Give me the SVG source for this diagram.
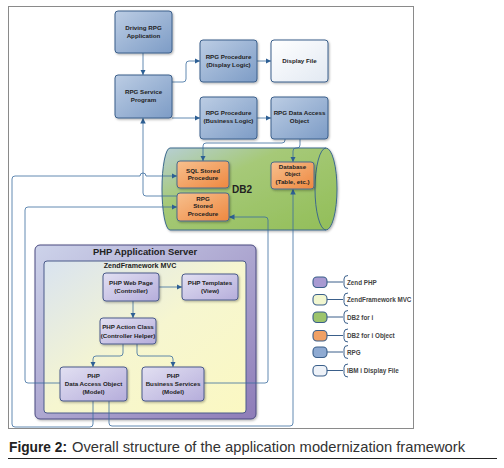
<svg xmlns="http://www.w3.org/2000/svg" width="504" height="468" viewBox="0 0 504 468">
<defs>
<linearGradient id="gRpg" x1="0" y1="0" x2="1" y2="1"><stop offset="0" stop-color="#bccde4"/><stop offset="1" stop-color="#7d9cc6"/></linearGradient>
<linearGradient id="gDisp" x1="0" y1="0" x2="1" y2="1"><stop offset="0" stop-color="#ffffff"/><stop offset="1" stop-color="#e2e9f2"/></linearGradient>
<linearGradient id="gOrg" x1="0" y1="0" x2="1" y2="1"><stop offset="0" stop-color="#f7c08e"/><stop offset="1" stop-color="#ee8840"/></linearGradient>
<linearGradient id="gDb" x1="0" y1="0" x2="1" y2="1"><stop offset="0" stop-color="#b7cfd6"/><stop offset="0.35" stop-color="#a6c978"/><stop offset="1" stop-color="#92be58"/></linearGradient>
<linearGradient id="gSrv" x1="0" y1="0" x2="1" y2="1"><stop offset="0" stop-color="#cdd3ea"/><stop offset="1" stop-color="#8e7cb8"/></linearGradient>
<linearGradient id="gMvc" x1="0" y1="0" x2="1" y2="1"><stop offset="0" stop-color="#d9e3f0"/><stop offset="0.5" stop-color="#f6f6d0"/><stop offset="1" stop-color="#fbf8c2"/></linearGradient>
<linearGradient id="gPhp" x1="0" y1="0" x2="1" y2="1"><stop offset="0" stop-color="#e2e0f2"/><stop offset="1" stop-color="#b5addb"/></linearGradient>
<filter id="sh" x="-10%" y="-10%" width="130%" height="130%"><feDropShadow dx="1" dy="1.2" stdDeviation="0.8" flood-color="#000" flood-opacity="0.3"/></filter>
<marker id="ar" viewBox="0 0 6 6" refX="6" refY="3" markerWidth="5.5" markerHeight="5.5" markerUnits="userSpaceOnUse" orient="auto"><path d="M0,0 L6,3 L0,6 Z" fill="#2d5f94"/></marker>
</defs>
<style>
.nd{stroke:#3a5f8a;stroke-width:1;filter:url(#sh)}
.rpg{fill:url(#gRpg)}
.dsp{fill:url(#gDisp)}
.org{fill:url(#gOrg);stroke:#4a6a8c}
.php{fill:url(#gPhp);stroke:#4a5a8a}
.t{font-family:"Liberation Sans",Arial,sans-serif;font-weight:bold;font-size:6.2px;fill:#222;text-anchor:middle}
.c{fill:none;stroke:#3a6c9e;stroke-width:0.8}
.a{marker-end:url(#ar)}
.lg{font-family:"Liberation Sans",Arial,sans-serif;font-weight:bold;font-size:6.3px;fill:#444}
.sw{stroke:#3a5f8a;stroke-width:1.1}
</style>
<rect x="0" y="0" width="504" height="468" fill="#ffffff"/>
<rect x="8.5" y="6.5" width="405" height="422" fill="#ffffff" stroke="#8a8a8a" stroke-width="1"/>

<g id="db2">
<path d="M170,148 L326,148 A11,41 0 0 1 326,230 L170,230 A8,41 0 0 1 170,148 Z" fill="url(#gDb)" stroke="#3d6a8c" stroke-width="1" filter="url(#sh)"/>
<path d="M326,148 A11,41 0 0 0 326,230" fill="none" stroke="#3d6a8c" stroke-width="1"/>
<text x="242" y="193" class="t" style="font-size:10px">DB2</text>
</g>

<g id="php-server">
<rect x="35" y="245" width="221" height="174" rx="5" fill="url(#gSrv)" stroke="#4a4a80" stroke-width="1" filter="url(#sh)"/>
<text x="145" y="255" class="t" style="font-size:9.4px">PHP Application Server</text>
</g>
<g id="zend-mvc">
<rect x="44" y="261" width="202" height="152" rx="3" fill="url(#gMvc)" stroke="#4a5a8a" stroke-width="1"/>
<text x="140" y="267.5" class="t" style="font-size:7.1px">ZendFramework MVC</text>
</g>

<g id="connectors">
<path class="c a" d="M143,53 V75"/>
<path class="c a" d="M172,82 H183 Q186,82 186,79 V64 Q186,61 189,61 H200"/>
<path class="c a" d="M172,118 H200"/>
<path class="c a" d="M257,61 H271"/>
<path class="c a" d="M257,118 H271"/>
<path class="c a" d="M285,139 V140 Q285,143 282,143 H206 Q203,143 203,146 V161"/>
<path class="c a" d="M300,139 V145 Q300,148 297,148 H296 Q293,148 293,151 V162"/>
<path class="c a" d="M177,196 H146 Q143,196 143,193 V118"/>
<path class="c a" d="M93,401 V424 Q93,427 90,427 H15 Q12,427 12,424 V179 Q12,176 15,176 H140 A3,3 0 0 1 146,176 H177"/>
<path class="c a" d="M60,383 H28 Q25,383 25,380 V210 Q25,207 28,207 H177"/>
<path class="c a" d="M204,383 H265 Q268,383 268,380 V220 Q268,217 265,217 H229"/>
<path class="c a" d="M109,401 V423 Q109,426 112,426 H290 Q293,426 293,423 V189"/>
<path class="c a" d="M159,287 H182"/>
<path class="c a" d="M133,301 V318"/>
<path class="c a" d="M123,344 V353 Q123,356 120,356 H96 Q93,356 93,359 V367"/>
<path class="c a" d="M137,344 V353 Q137,356 140,356 H170 Q173,356 173,359 V367"/>
</g>

<g id="driving-rpg">
<rect x="115" y="11" width="57" height="42" rx="3" class="nd rpg"/>
<text x="143.5" y="30" class="t">Driving RPG</text>
<text x="143.5" y="38" class="t">Application</text>
</g>
<g id="rpg-service">
<rect x="115" y="75" width="57" height="43" rx="3" class="nd rpg"/>
<text x="143.5" y="94" class="t">RPG Service</text>
<text x="143.5" y="102" class="t">Program</text>
</g>
<g id="rpg-display-logic">
<rect x="200" y="40" width="57" height="42" rx="3" class="nd rpg"/>
<text x="228.5" y="59" class="t">RPG Procedure</text>
<text x="228.5" y="67" class="t">(Display Logic)</text>
</g>
<g id="display-file">
<rect x="271" y="40" width="57" height="42" rx="3" class="nd dsp"/>
<text x="299.5" y="63" class="t">Display File</text>
</g>
<g id="rpg-business-logic">
<rect x="200" y="97" width="57" height="42" rx="3" class="nd rpg"/>
<text x="228.5" y="115" class="t">RPG Procedure</text>
<text x="228.5" y="123" class="t">(Business Logic)</text>
</g>
<g id="rpg-dao">
<rect x="271" y="97" width="57" height="42" rx="3" class="nd rpg"/>
<text x="299.5" y="115" class="t">RPG Data Access</text>
<text x="299.5" y="123" class="t">Object</text>
</g>

<g id="sql-sp">
<rect x="177" y="161" width="52" height="27" rx="3" class="nd org"/>
<text x="203" y="173" class="t">SQL Stored</text>
<text x="203" y="180" class="t">Procedure</text>
</g>
<g id="rpg-sp">
<rect x="177" y="193" width="52" height="28" rx="3" class="nd org"/>
<text x="203" y="200.5" class="t">RPG</text>
<text x="203" y="208" class="t">Stored</text>
<text x="203" y="216" class="t">Procedure</text>
</g>
<g id="db-object">
<rect x="271" y="162" width="43" height="27" rx="3" class="nd org"/>
<text x="292.5" y="169" class="t">Database</text>
<text x="292.5" y="176" class="t" style="font-size:5px">Object</text>
<text x="292.5" y="184" class="t">(Table, etc.)</text>
</g>

<g id="php-web-page">
<rect x="103" y="273" width="56" height="28" rx="3" class="nd php"/>
<text x="131" y="285" class="t">PHP Web Page</text>
<text x="131" y="293" class="t">(Controller)</text>
</g>
<g id="php-templates">
<rect x="182" y="274" width="56" height="26" rx="3" class="nd php"/>
<text x="210" y="285" class="t">PHP Templates</text>
<text x="210" y="293" class="t">(View)</text>
</g>
<g id="php-action">
<rect x="100" y="318" width="56" height="26" rx="3" class="nd php"/>
<text x="128" y="329" class="t">PHP Action Class</text>
<text x="128" y="337.5" class="t">(Controller Helper)</text>
</g>
<g id="php-dao">
<rect x="60" y="367" width="67" height="34" rx="3" class="nd php"/>
<text x="93.5" y="378" class="t">PHP</text>
<text x="93.5" y="386" class="t">Data Access Object</text>
<text x="93.5" y="393.5" class="t">(Model)</text>
</g>
<g id="php-business">
<rect x="142" y="367" width="62" height="34" rx="3" class="nd php"/>
<text x="173" y="378" class="t">PHP</text>
<text x="173" y="386" class="t">Business Services</text>
<text x="173" y="393.5" class="t">(Model)</text>
</g>

<g id="legend">
<g><rect x="313" y="277" width="14" height="10.5" rx="4" class="sw" fill="#a89ad2"/><path class="c" style="stroke:#3a5f8a;stroke-width:1" d="M327,282 H343 M348,275.5 Q344,275.5 344,279 V285 Q344,288.5 348,288.5"/><text x="347" y="284.5" class="lg">Zend PHP</text></g>
<g><rect x="313" y="294.5" width="14" height="10.5" rx="4" class="sw" fill="#f1f6cf"/><path class="c" style="stroke:#3a5f8a;stroke-width:1" d="M327,299.5 H343 M348,293 Q344,293 344,296.5 V302.5 Q344,306 348,306"/><text x="347" y="302" class="lg">ZendFramework MVC</text></g>
<g><rect x="313" y="312" width="14" height="10.5" rx="4" class="sw" fill="#9cc46c"/><path class="c" style="stroke:#3a5f8a;stroke-width:1" d="M327,317 H343 M348,310.5 Q344,310.5 344,314 V320 Q344,323.5 348,323.5"/><text x="347" y="319.5" class="lg">DB2 for i</text></g>
<g><rect x="313" y="330.5" width="14" height="10.5" rx="4" class="sw" fill="#f0a064"/><path class="c" style="stroke:#3a5f8a;stroke-width:1" d="M327,335.5 H343 M348,329 Q344,329 344,332.5 V338.5 Q344,342 348,342"/><text x="347" y="338" class="lg">DB2 for i Object</text></g>
<g><rect x="313" y="347" width="14" height="10.5" rx="4" class="sw" fill="#8eaad2"/><path class="c" style="stroke:#3a5f8a;stroke-width:1" d="M327,352 H343 M348,345.5 Q344,345.5 344,349 V355 Q344,358.5 348,358.5"/><text x="347" y="354.5" class="lg">RPG</text></g>
<g><rect x="313" y="365.5" width="14" height="10.5" rx="4" class="sw" fill="#eef2f8"/><path class="c" style="stroke:#3a5f8a;stroke-width:1" d="M327,370.5 H343 M348,364 Q344,364 344,367.5 V373.5 Q344,377 348,377"/><text x="347" y="373" class="lg">IBM i Display File</text></g>
</g>

<g id="caption">
<text x="9" y="452" font-family="'Liberation Sans',Arial,sans-serif" font-size="14.5" font-weight="bold" fill="#222" textLength="58" lengthAdjust="spacingAndGlyphs">Figure 2:</text>
<text x="72" y="452" font-family="'Liberation Sans',Arial,sans-serif" font-size="14.5" fill="#333" textLength="393" lengthAdjust="spacingAndGlyphs">Overall structure of the application modernization framework</text>
<line x1="8" y1="458.5" x2="497" y2="458.5" stroke="#222" stroke-width="1"/>
</g>
</svg>
